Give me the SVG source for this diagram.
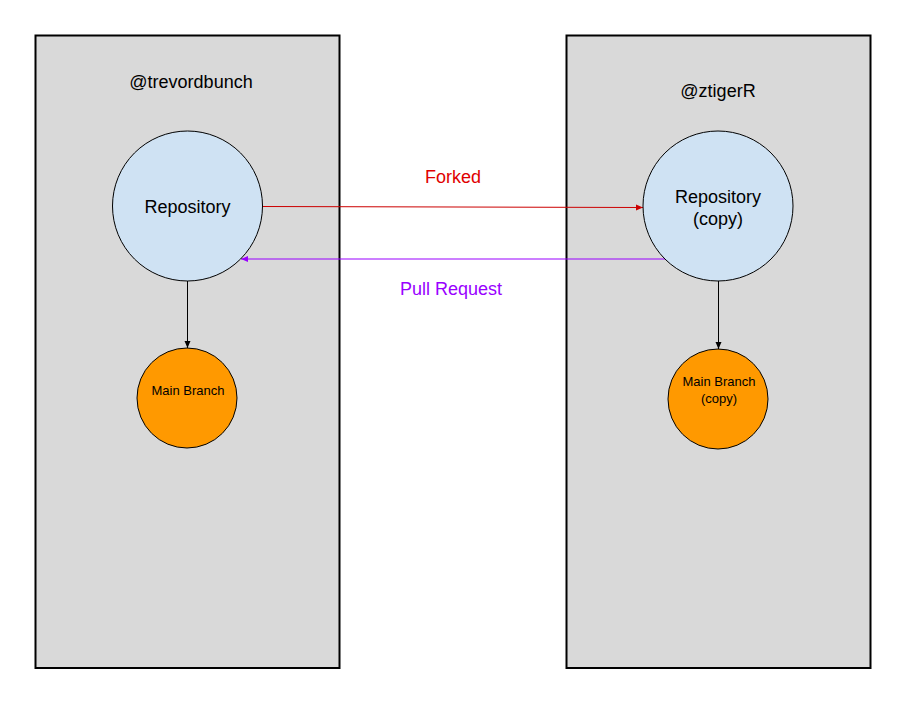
<svg xmlns="http://www.w3.org/2000/svg" width="914" height="704" viewBox="0 0 914 704">
<style>
.box{fill:#d9d9d9;stroke:#000;stroke-width:2}
.repo{fill:#cfe2f3;stroke:#000;stroke-width:1}
.br{fill:#ff9900;stroke:#000;stroke-width:1}
text{font-family:"Liberation Sans",Arial,sans-serif;text-anchor:middle;fill:#000}
.t18{font-size:18px}
.t13{font-size:13px}
</style>
<defs>
<marker id="ak" markerWidth="8" markerHeight="8" refX="7" refY="4" orient="auto" markerUnits="userSpaceOnUse"><path d="M0,1 L7,4 L0,7 Z" fill="#000"/></marker>
<marker id="ar" markerWidth="8" markerHeight="8" refX="7" refY="4" orient="auto" markerUnits="userSpaceOnUse"><path d="M0,1 L7,4 L0,7 Z" fill="#cc0000"/></marker>
<marker id="ap" markerWidth="8" markerHeight="8" refX="7" refY="4" orient="auto" markerUnits="userSpaceOnUse"><path d="M0,1 L7,4 L0,7 Z" fill="#9900ff"/></marker>
</defs>
<rect width="914" height="704" fill="#fff"/>
<g id="user-left">
<rect class="box" x="35.5" y="35.5" width="304" height="632.5"/>
<text class="t18" x="191" y="88">@trevordbunch</text>
</g>
<g id="user-right">
<rect class="box" x="566.5" y="35.5" width="304" height="632.5"/>
<text class="t18" x="718" y="97">@ztigerR</text>
</g>
<g id="connectors">
<line x1="263" y1="206.5" x2="643" y2="207.5" stroke="#cc0000" stroke-width="1" marker-end="url(#ar)"/>
<line x1="666" y1="259" x2="241" y2="259" stroke="#9900ff" stroke-width="1.2" marker-end="url(#ap)"/>
<line x1="187.5" y1="281" x2="187.5" y2="348" stroke="#000" stroke-width="1" marker-end="url(#ak)"/>
<line x1="718.5" y1="281" x2="718.5" y2="349" stroke="#000" stroke-width="1" marker-end="url(#ak)"/>
<text class="t18" x="453" y="183" style="fill:#e00000">Forked</text>
<text class="t18" x="451" y="295" style="fill:#9900ff">Pull Request</text>
</g>
<g id="repo-left">
<circle class="repo" cx="187.5" cy="206" r="75"/>
<text class="t18" x="187.5" y="213">Repository</text>
</g>
<g id="repo-right">
<circle class="repo" cx="718" cy="206" r="75"/>
<text class="t18" x="718" y="203">Repository</text>
<text class="t18" x="718" y="225">(copy)</text>
</g>
<g id="branch-left">
<circle class="br" cx="187" cy="398" r="50"/>
<text class="t13" x="188" y="395">Main Branch</text>
</g>
<g id="branch-right">
<circle class="br" cx="718" cy="399" r="50"/>
<text class="t13" x="719" y="386">Main Branch</text>
<text class="t13" x="719" y="403">(copy)</text>
</g>
</svg>
